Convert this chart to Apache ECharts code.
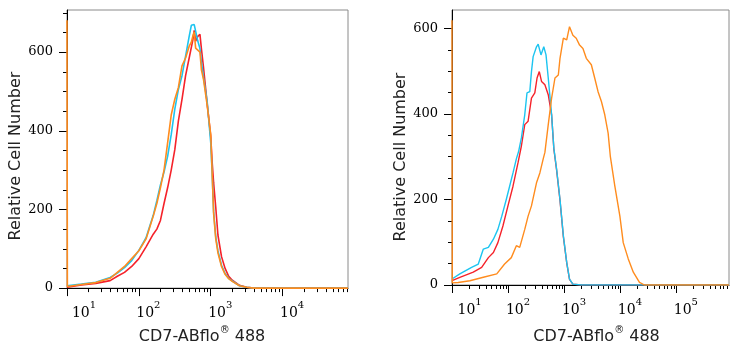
<!DOCTYPE html>
<html>
<head>
<meta charset="utf-8">
<title>CD7-ABflo 488</title>
<script src="https://cdn.jsdelivr.net/npm/echarts@6/dist/echarts.min.js"></script>
<style>
  html, body { margin: 0; padding: 0; background: #fff; }
  #chart { width: 738px; height: 350px; }
</style>
</head>
<body>
<div id="chart"></div>
<script>
// x values are log10 of the channel (10^1 .. 10^5), y is cell count

// left panel: three overlapping histograms
var leftX = [1.0, 1.005, 1.2, 1.4, 1.6, 1.7, 1.8, 1.9, 2.0, 2.1, 2.2, 2.25, 2.3, 2.35, 2.4, 2.45, 2.5, 2.55, 2.6, 2.65,
  2.7, 2.73, 2.75, 2.77, 2.79, 2.82, 2.85, 2.87, 2.9, 2.95, 3.0, 3.02, 3.04, 3.07, 3.1, 3.15, 3.2, 3.25, 3.3, 3.4,
  3.5, 3.6, 4.0, 4.5, 4.91];
var leftCyan = [6, 5, 10, 15, 27, 38, 52, 70, 96, 128, 185, 222, 262, 295, 335, 390, 455, 505, 540, 590,
  640, 668, 673, 670, 665, 628, 609, 575, 535, 475, 370, 290, 195, 130, 95, 58, 37, 25, 18, 6,
  2, 0, 0, 0, 0];
var leftRed = [2, 2, 8, 12, 19, 30, 40, 55, 75, 105, 137, 150, 172, 215, 255, 300, 352, 425, 480, 540,
  585, 612, 630, 655, 628, 640, 645, 609, 560, 470, 385, 320, 268, 205, 135, 80, 50, 30, 20, 7,
  2, 0, 0, 0, 0];
var leftOrange = [681, 4, 9, 14, 25, 40, 55, 75, 95, 125, 183, 215, 255, 300, 369, 440, 480, 510, 565, 585,
  615, 625, 640, 651, 610, 605, 600, 555, 530, 465, 390, 290, 190, 125, 90, 55, 35, 24, 17, 6,
  2, 0, 0, 0, 0];

// right panel
var rightCyanX = [0.99, 1.13, 1.34, 1.46, 1.55, 1.64, 1.73, 1.81, 1.88, 1.96, 2.02, 2.08, 2.14, 2.18, 2.23, 2.29,
  2.33, 2.38, 2.41, 2.44, 2.5, 2.53, 2.58, 2.63, 2.67, 2.71, 2.77, 2.81, 2.86, 2.92, 2.98, 3.04, 3.09, 3.15, 3.3, 5.94];
var rightCyanY = [14, 26, 41, 49, 84, 88, 107, 130, 161, 200, 231, 262, 295, 312, 344, 398,
  449, 452, 499, 534, 557, 563, 538, 557, 538, 484, 398, 320, 270, 200, 115, 53, 14, 2, 0, 0];

var rightRedX = [0.99, 1.13, 1.37, 1.52, 1.64, 1.73, 1.81, 1.9, 1.99, 2.08, 2.17, 2.23, 2.29, 2.35, 2.41, 2.47,
  2.51, 2.55, 2.59, 2.65, 2.71, 2.77, 2.81, 2.86, 2.92, 2.98, 3.04, 3.09, 3.15, 3.3, 5.94];
var rightRedY = [10, 18, 30, 41, 64, 76, 99, 138, 185, 231, 286, 325, 375, 383, 437, 449,
  484, 499, 476, 468, 445, 398, 318, 268, 198, 113, 52, 13, 2, 0, 0];

var rightOrangeX = [0.99, 0.995, 1.1, 1.31, 1.55, 1.79, 1.93, 2.05, 2.14, 2.2, 2.29, 2.35, 2.41, 2.5, 2.56, 2.62,
  2.65, 2.71, 2.77, 2.83, 2.89, 2.92, 2.98, 3.04, 3.09, 3.15, 3.21, 3.27, 3.33, 3.39, 3.48, 3.54,
  3.6, 3.66, 3.72, 3.78, 3.82, 3.9, 3.99, 4.05, 4.14, 4.23, 4.34, 4.43, 5.94];
var rightOrangeY = [619, 5, 6, 10, 18, 26, 49, 64, 92, 88, 130, 161, 185, 239, 262, 295,
  310, 375, 437, 484, 491, 530, 577, 573, 604, 584, 577, 561, 553, 530, 515, 484,
  452, 429, 398, 355, 300, 231, 161, 99, 61, 30, 6, 0, 0];

// tick labels
var leftDecades = [1, 2, 3, 4];
var rightDecades = [1, 2, 3, 4, 5];
var countTicks = [0, 200, 400, 600];
var countMinorTicks = [50, 100, 150, 250, 300, 350, 450, 500, 550, 650, 700];

var CYAN = '#1cc4f0', RED = '#f5222a', ORANGE = '#ff8c1e';
var SERIF = 'DejaVu Serif', SANS = 'DejaVu Sans';

function pairs(xs, ys) {
  return xs.map(function (x, i) { return [x, ys[i]]; });
}

// 2..9 x 10^k positions in log space
function logMinor(lo, hi) {
  var out = [];
  for (var k = 0; k <= 6; k++) {
    for (var m = 2; m <= 9; m++) {
      var v = k + Math.log10(m);
      if (v > lo && v < hi) out.push(v);
    }
  }
  return out;
}

// labels sit a bit right of their tick, the first one more so
var labelRich = {
  b: { fontFamily: SERIF, fontSize: 14, color: '#000', verticalAlign: 'bottom', lineHeight: 20, padding: [0, 0, 0, 19] },
  p: { fontFamily: SERIF, fontSize: 14, color: '#000', verticalAlign: 'bottom', lineHeight: 20, padding: [0, 0, 0, 34] },
  s: { fontFamily: SERIF, fontSize: 10, color: '#000', verticalAlign: 'top', lineHeight: 12 }
};

var nameRich = {
  a: { fontFamily: SANS, fontSize: 16, color: '#222', verticalAlign: 'bottom', lineHeight: 20 },
  r: { fontFamily: SANS, fontSize: 10, color: '#222', verticalAlign: 'top', lineHeight: 12 }
};

function xAxes(grid, min, max, decades, gap, pad) {
  return [{
    type: 'value', gridIndex: grid, min: min, max: max, position: 'bottom',
    axisLine: { show: true, onZero: false, lineStyle: { color: '#000', width: 1 } },
    axisTick: { show: true, length: 8, customValues: decades, lineStyle: { color: '#000' } },
    axisLabel: {
      customValues: decades, margin: 12, align: 'center', rich: labelRich,
      formatter: function (v) {
        return (v === decades[0] ? '{p|10}' : '{b|10}') + '{s|' + Math.round(v) + '}';
      }
    },
    splitLine: { show: false },
    name: '{a|CD7-ABflo}{r|®}{a| 488}',
    nameLocation: 'middle', nameGap: gap,
    nameTextStyle: { rich: nameRich, padding: pad }
  }, {
    type: 'value', gridIndex: grid, min: min, max: max, position: 'bottom',
    axisLine: { show: false, onZero: false },
    axisTick: { show: true, length: 4, customValues: logMinor(min, max), lineStyle: { color: '#000' } },
    axisLabel: { show: false },
    splitLine: { show: false }
  }];
}

function yAxes(grid, max, pad) {
  return [{
    type: 'value', gridIndex: grid, min: 0, max: max, position: 'left',
    axisLine: { show: true, lineStyle: { color: '#000', width: 1 } },
    axisTick: { show: true, length: 8, customValues: countTicks, lineStyle: { color: '#000' } },
    axisLabel: { customValues: countTicks, margin: 14, fontFamily: SERIF, fontSize: 13, color: '#000' },
    splitLine: { show: false },
    name: 'Relative Cell Number', nameLocation: 'middle', nameGap: 42, nameRotate: 90,
    nameTextStyle: { fontFamily: SANS, fontSize: 16, color: '#222', padding: pad }
  }, {
    type: 'value', gridIndex: grid, min: 0, max: max, position: 'left',
    axisLine: { show: false },
    axisTick: {
      show: true, length: 4, lineStyle: { color: '#000' },
      customValues: countMinorTicks.filter(function (v) { return v < max; })
    },
    axisLabel: { show: false },
    splitLine: { show: false }
  }];
}

function line(name, color, data, xi, yi, w) {
  return {
    name: name, type: 'line', xAxisIndex: xi, yAxisIndex: yi, data: data,
    showSymbol: false, symbol: 'none', smooth: false, clip: true,
    lineStyle: { color: color, width: w }, itemStyle: { color: color }
  };
}

var chart = echarts.init(document.getElementById('chart'), null, { renderer: 'canvas' });

var option = {
  animation: false,
  backgroundColor: '#fff',
  grid: [
    { left: 67, top: 10, width: 281, height: 279, show: true, borderColor: '#8a8a8a', borderWidth: 1 },
    { left: 452, top: 10, width: 277, height: 276, show: true, borderColor: '#8a8a8a', borderWidth: 1 }
  ],
  xAxis: xAxes(0, 1.0, 4.91, leftDecades, 36, [0, 11, 0, 0])
    .concat(xAxes(1, 0.99, 5.94, rightDecades, 40, [0, 0, 0, 12])),
  yAxis: yAxes(0, 707, [0, 14, 0, 0]).concat(yAxes(1, 643, [0, 19, 0, 0])),
  series: [
    line('red', RED, pairs(leftX, leftRed), 0, 0, 1.6),
    line('cyan', CYAN, pairs(leftX, leftCyan), 0, 0, 1.6),
    line('orange', ORANGE, pairs(leftX, leftOrange), 0, 0, 1.6),
    line('red', RED, pairs(rightRedX, rightRedY), 2, 2, 1.4),
    line('cyan', CYAN, pairs(rightCyanX, rightCyanY), 2, 2, 1.4),
    line('orange', ORANGE, pairs(rightOrangeX, rightOrangeY), 2, 2, 1.4)
  ]
};

chart.setOption(option);
</script>
</body>
</html>
